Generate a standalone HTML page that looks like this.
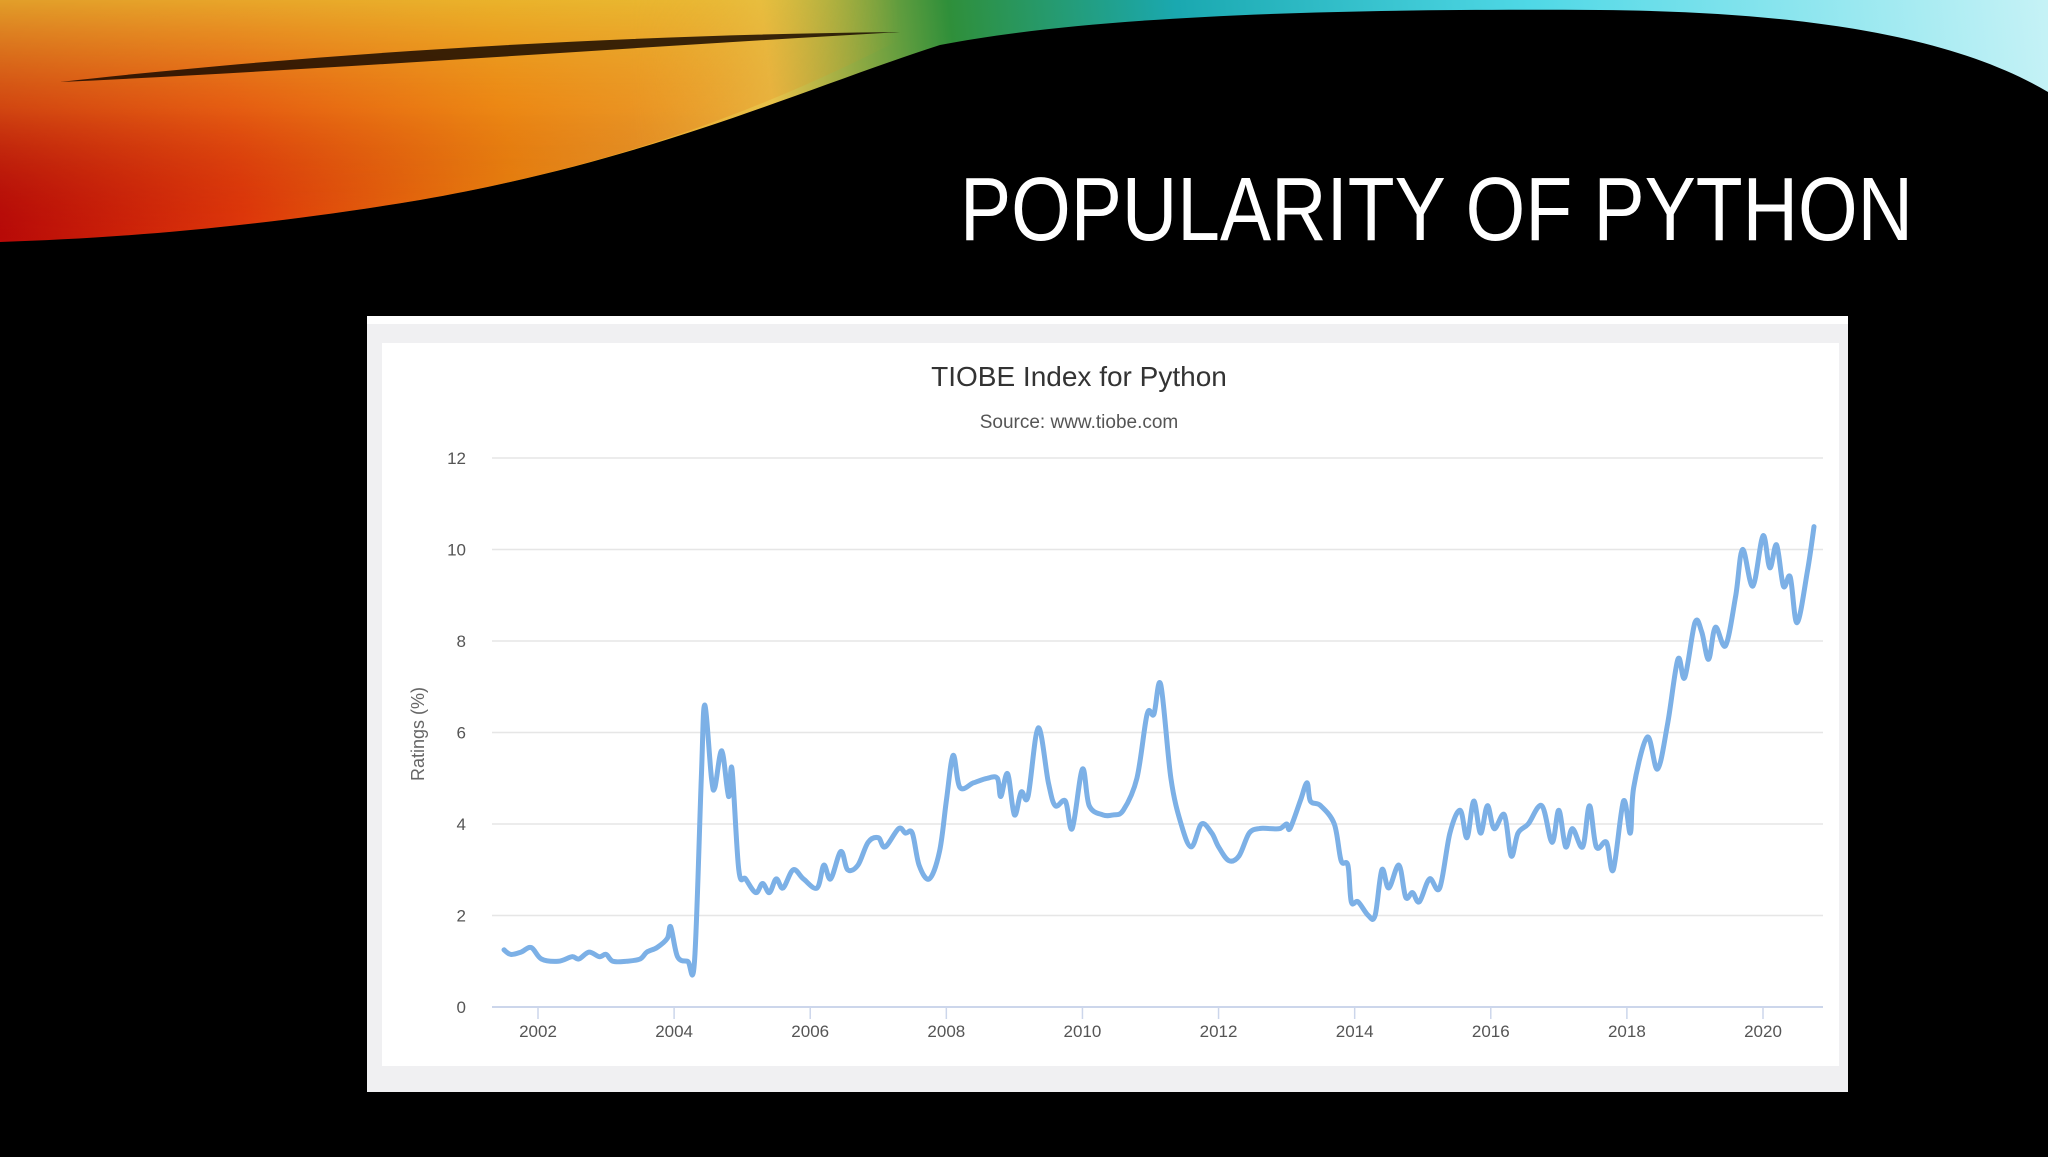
<!DOCTYPE html>
<html><head><meta charset="utf-8">
<style>
html,body{margin:0;padding:0;background:#000;}
body{width:2048px;height:1152px;overflow:hidden;font-family:"Liberation Sans",sans-serif;}
</style></head>
<body>
<svg id="slide" width="2048" height="1152" viewBox="0 0 2048 1152" xmlns="http://www.w3.org/2000/svg">
<defs>
<linearGradient id="sw" x1="0" y1="240" x2="2048" y2="0" gradientUnits="userSpaceOnUse">
<stop offset="0" stop-color="#b80a08"/>
<stop offset="0.12" stop-color="#e23a0a"/>
<stop offset="0.25" stop-color="#f0900e"/>
<stop offset="0.38" stop-color="#e8c24a"/>
<stop offset="0.47" stop-color="#2f8f3a"/>
<stop offset="0.58" stop-color="#1aa8b0"/>
<stop offset="0.75" stop-color="#4fd8e6"/>
<stop offset="1" stop-color="#c6f2f6"/>
</linearGradient>
<linearGradient id="sv" x1="0" y1="0" x2="0" y2="240" gradientUnits="userSpaceOnUse">
<stop offset="0" stop-color="#e8b830" stop-opacity="0.85"/>
<stop offset="0.45" stop-color="#e8801a" stop-opacity="0.5"/>
<stop offset="1" stop-color="#a00808" stop-opacity="0"/>
</linearGradient>
<linearGradient id="svmask" x1="0" y1="0" x2="900" y2="0" gradientUnits="userSpaceOnUse">
<stop offset="0" stop-color="#fff"/>
<stop offset="0.7" stop-color="#fff"/>
<stop offset="1" stop-color="#000"/>
</linearGradient>
<mask id="m1"><rect width="2048" height="300" fill="url(#svmask)"/></mask>
</defs>
<rect width="2048" height="1152" fill="#000"/>
<path d="M0,0 L2048,0 L2048,92 C1960,40 1820,12 1600,10 C1300,8 1080,18 940,45 C800,90 650,160 420,200 C250,228 120,238 0,242 Z" fill="url(#sw)"/>
<path d="M0,0 L900,0 L900,40 C800,90 650,160 420,200 C250,228 120,238 0,242 Z" fill="url(#sv)" mask="url(#m1)"/>
<path d="M60,82 C300,55 600,35 900,32 C620,48 320,70 60,82 Z" fill="#1a0a00" opacity="0.85"/>
<text x="1913" y="240" text-anchor="end" font-size="90" fill="#fff" textLength="953" lengthAdjust="spacingAndGlyphs" font-family="Liberation Sans, sans-serif">POPULARITY OF PYTHON</text>

<rect x="367" y="316" width="1481" height="776" fill="#f0f0f2"/>
<rect x="367" y="316" width="1481" height="8" fill="#fff"/>
<rect x="382" y="343" width="1457" height="723" fill="#fff"/>
<text x="1079" y="386" text-anchor="middle" font-size="28" fill="#333">TIOBE Index for Python</text>
<text x="1079" y="428" text-anchor="middle" font-size="19" fill="#555">Source: www.tiobe.com</text>
<text transform="translate(424,734) rotate(-90)" text-anchor="middle" font-size="18" fill="#666">Ratings (%)</text>
<g id="grid"></g>
<g id="xticks"></g>
<g id="series"></g>
</svg>
<script>
const yTicks=[0,2,4,6,8,10,12];
const xTickYears=[2002,2004,2006,2008,2010,2012,2014,2016,2018,2020];
const dates=[2001.5,2001.6,2001.75,2001.9,2002.05,2002.3,2002.5,2002.6,2002.75,2002.9,2003.0,2003.1,2003.3,2003.5,2003.6,2003.75,2003.9,2003.95,2004.05,2004.2,2004.3,2004.4,2004.45,2004.55,2004.6,2004.7,2004.8,2004.85,2004.95,2005.05,2005.2,2005.3,2005.4,2005.5,2005.6,2005.75,2005.9,2006.1,2006.2,2006.3,2006.45,2006.55,2006.7,2006.85,2007.0,2007.1,2007.3,2007.4,2007.5,2007.6,2007.75,2007.9,2008.0,2008.1,2008.2,2008.4,2008.6,2008.75,2008.8,2008.9,2009.0,2009.1,2009.2,2009.35,2009.5,2009.6,2009.75,2009.85,2010.0,2010.1,2010.3,2010.45,2010.6,2010.8,2010.95,2011.05,2011.15,2011.3,2011.45,2011.6,2011.75,2011.9,2012.0,2012.15,2012.3,2012.45,2012.6,2012.75,2012.9,2013.0,2013.05,2013.2,2013.3,2013.35,2013.5,2013.7,2013.8,2013.9,2013.95,2014.05,2014.2,2014.3,2014.4,2014.5,2014.65,2014.75,2014.85,2014.95,2015.1,2015.25,2015.4,2015.55,2015.65,2015.75,2015.85,2015.95,2016.05,2016.2,2016.3,2016.4,2016.55,2016.75,2016.9,2017.0,2017.1,2017.2,2017.35,2017.45,2017.55,2017.7,2017.8,2017.95,2018.05,2018.1,2018.3,2018.45,2018.6,2018.75,2018.85,2019.0,2019.1,2019.2,2019.3,2019.45,2019.6,2019.7,2019.85,2020.0,2020.1,2020.2,2020.3,2020.4,2020.5,2020.65,2020.75];
const ratings=[1.25,1.15,1.2,1.3,1.05,1.0,1.1,1.05,1.2,1.1,1.15,1.0,1.0,1.05,1.2,1.3,1.5,1.75,1.1,1.0,1.0,5.0,6.6,5.0,4.8,5.6,4.6,5.2,3.0,2.8,2.5,2.7,2.5,2.8,2.6,3.0,2.8,2.6,3.1,2.8,3.4,3.0,3.1,3.6,3.7,3.5,3.9,3.8,3.8,3.1,2.8,3.4,4.5,5.5,4.8,4.9,5.0,5.0,4.6,5.1,4.2,4.7,4.6,6.1,4.9,4.4,4.5,3.9,5.2,4.4,4.2,4.2,4.3,5.0,6.4,6.4,7.05,5.0,4.0,3.5,4.0,3.8,3.5,3.2,3.3,3.8,3.9,3.9,3.9,4.0,3.9,4.5,4.9,4.5,4.4,4.0,3.2,3.1,2.3,2.3,2.0,2.0,3.0,2.6,3.1,2.4,2.5,2.3,2.8,2.6,3.8,4.3,3.7,4.5,3.8,4.4,3.9,4.2,3.3,3.8,4.0,4.4,3.6,4.3,3.5,3.9,3.5,4.4,3.5,3.6,3.0,4.5,3.8,4.8,5.9,5.2,6.2,7.6,7.2,8.4,8.2,7.6,8.3,7.9,9.0,10.0,9.2,10.3,9.6,10.1,9.2,9.4,8.4,9.5,10.5];

const NS='http://www.w3.org/2000/svg';
const X0=492,X1=1823,Y0=1007,Y12=458;
function xScale(yr){return 538+(yr-2002)*(1763-538)/18;}
function yScale(v){return Y0-(v/12)*(Y0-Y12);}

const grid=document.getElementById('grid');
yTicks.forEach(v=>{
  const l=document.createElementNS(NS,'line');
  l.setAttribute('x1',X0);l.setAttribute('x2',X1);
  l.setAttribute('y1',yScale(v));l.setAttribute('y2',yScale(v));
  l.setAttribute('stroke',v===0?'#ccd6eb':'#e6e6e6');l.setAttribute('stroke-width',v===0?2:1.5);
  
  
  grid.appendChild(l);
  const t=document.createElementNS(NS,'text');
  t.setAttribute('x',466);t.setAttribute('y',yScale(v)+6);
  t.setAttribute('text-anchor','end');t.setAttribute('font-size','17');t.setAttribute('fill','#555');
  t.textContent=v;
  
  
  grid.appendChild(t);
});
const xt=document.getElementById('xticks');
xTickYears.forEach(y=>{
  const l=document.createElementNS(NS,'line');
  l.setAttribute('x1',xScale(y));l.setAttribute('x2',xScale(y));
  l.setAttribute('y1',Y0);l.setAttribute('y2',Y0+12);
  l.setAttribute('stroke','#ccd6eb');l.setAttribute('stroke-width',1.5);
  
  
  xt.appendChild(l);
  const t=document.createElementNS(NS,'text');
  t.setAttribute('x',xScale(y));t.setAttribute('y',1037);
  t.setAttribute('text-anchor','middle');t.setAttribute('font-size','17');t.setAttribute('fill','#555');
  t.textContent=y;
  
  
  xt.appendChild(t);
});
const pts=dates.map((yr,i)=>[xScale(yr),yScale(ratings[i])]);
let d='M'+pts[0][0].toFixed(1)+','+pts[0][1].toFixed(1);
for(let i=0;i<pts.length-1;i++){
  const p0=pts[Math.max(0,i-1)],p1=pts[i],p2=pts[i+1],p3=pts[Math.min(pts.length-1,i+2)];
  const c1x=p1[0]+(p2[0]-p0[0])/6,c1y=p1[1]+(p2[1]-p0[1])/6;
  const c2x=p2[0]-(p3[0]-p1[0])/6,c2y=p2[1]-(p3[1]-p1[1])/6;
  d+='C'+c1x.toFixed(1)+','+c1y.toFixed(1)+' '+c2x.toFixed(1)+','+c2y.toFixed(1)+' '+p2[0].toFixed(1)+','+p2[1].toFixed(1);
}
const p=document.createElementNS(NS,'path');
p.setAttribute('d',d);p.setAttribute('fill','none');p.setAttribute('stroke','#7cb0e6');
p.setAttribute('stroke-width','5');p.setAttribute('stroke-linejoin','round');p.setAttribute('stroke-linecap','round');


document.getElementById('series').appendChild(p);
</script>
</body></html>
